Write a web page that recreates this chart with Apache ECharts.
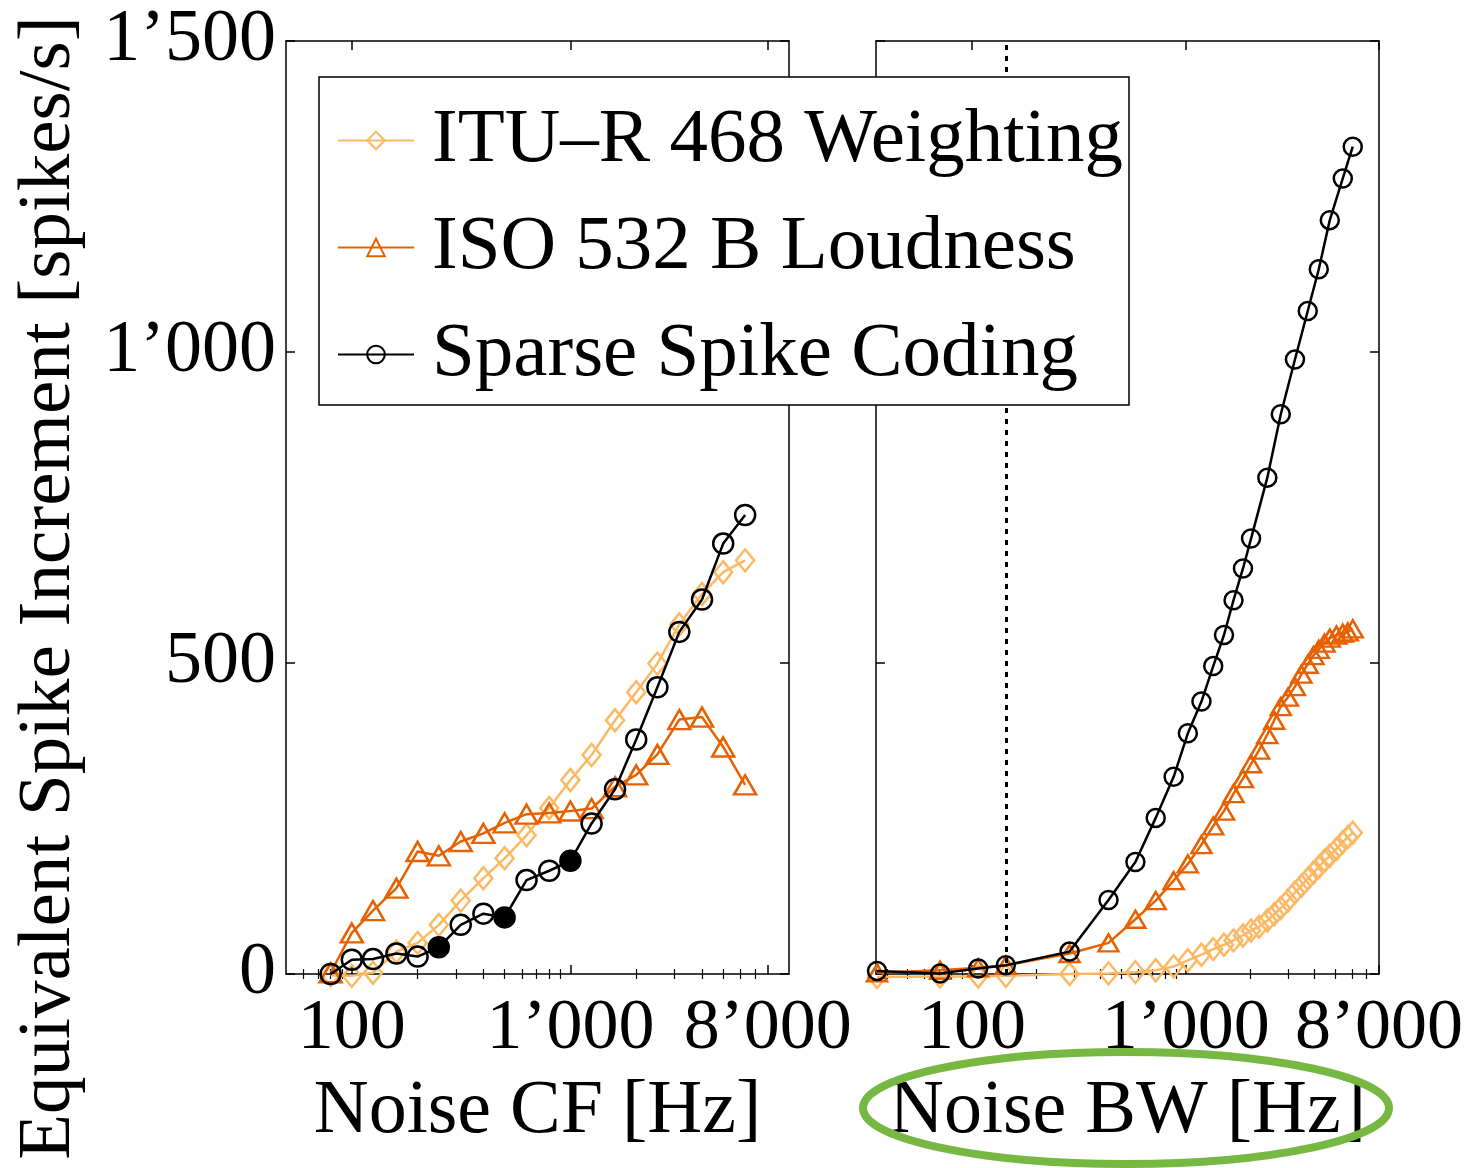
<!DOCTYPE html>
<html>
<head>
<meta charset="utf-8">
<script src="https://cdn.jsdelivr.net/npm/echarts@6/dist/echarts.min.js"></script>
<style>
html,body{margin:0;padding:0;background:#fff;}
#chart{width:1477px;height:1168px;}
</style>
</head>
<body>
<div id="chart"></div>
<script>
// ---------- data ----------
const seriesNames = ['ITU\u2013R 468 Weighting', 'ISO 532 B Loudness', 'Sparse Spike Coding'];
const yAxisTitle = 'Equivalent Spike Increment [spikes/s]';
const xAxisTitles = ['Noise CF [Hz]', 'Noise BW [Hz]'];
const xTickLabels = [100, 1000, 8000];
const yTickLabels = [0, 500, 1000, 1500];
const cfMinorTicks = [60, 70, 80, 90, 200, 300, 400, 500, 600, 700, 800, 900, 2000, 3000, 4000, 5000, 6000, 7000];
const bwMinorTicks = [40, 50, 60, 70, 80, 90, 200, 300, 400, 500, 600, 700, 800, 900, 2000, 3000, 4000, 5000, 6000, 7000];
const cfRange = [50, 10000];
const bwRange = [35.6, 8000];

// Left panel: noise centre frequency
const cfHz     = [80, 100, 125, 160, 200, 250, 315, 400, 500, 630, 800, 1000, 1250, 1600, 2000, 2500, 3150, 4000, 5000, 6300];
const cfItu    = [-2, -3, 2, 36, 50, 79, 118, 154, 186, 223, 267, 312, 352, 408, 453, 499, 562, 611, 646, 665];
const cfIso    = [2, 66, 102, 138, 197, 190, 213, 226, 243, 257, 259, 262, 266, 301, 320, 353, 409, 413, 365, 304];
const cfSparse = [0, 23, 24, 33, 28, 43, 79, 97, 91, 151, 166, 182, 242, 297, 377, 461, 550, 602, 692, 738];
const cfSparseFilledHz = [250, 500, 1000];

// Right panel: noise bandwidth
const bwHz  = [36, 71, 107, 144, 286, 435, 581, 723, 877, 1022, 1183, 1343, 1508, 1671, 1850, 2018, 2200, 2404, 2590, 2779, 3000, 3237, 3470, 3715, 3950, 4183, 4450, 4710, 5060, 5417, 5720, 6030];
const bwItu = [-5, -4, -4, -3, 0, 1, 3, 6, 12, 22, 31, 40, 47, 54, 62, 70, 76, 86, 96, 106, 118, 131, 142, 153, 163, 172, 182, 190, 201, 212, 220, 227];
const bwIso = [2, 6, 10, 14, 33, 50, 88, 118, 150, 177, 208, 238, 262, 290, 314, 338, 360, 385, 408, 430, 445, 462, 482, 498, 512, 522, 532, 540, 545, 548, 550, 555];
const bwSparseHz = [36, 71, 107, 144, 286, 435, 581, 723, 877, 1022, 1183, 1343, 1508, 1671, 1850, 2018, 2404, 2779, 3237, 3715, 4183, 4710, 5417, 6030];
const bwSparse   = [5, 1, 9, 14, 36, 119, 180, 251, 317, 387, 438, 495, 545, 601, 652, 700, 798, 900, 988, 1066, 1133, 1212, 1279, 1330];
const bwMarkerHz = 144;

// ---------- style ----------
const FONT = 'Liberation Serif';
const COLORS = ['#fdb863', '#e66101', '#000000'];
const SYMBOLS = ['diamond', 'triangle', 'circle'];
const L = Math.log10;

function fmtThousands(n) {
  const s = String(Math.round(n));
  return s.length > 3 ? s.slice(0, -3) + '\u2019' + s.slice(-3) : s;
}

const grids = [
  {left: 286, top: 41, width: 503, height: 933},
  {left: 876, top: 41, width: 503, height: 933}
];

function xAxesFor(gridIndex, range, minors, title) {
  const base = {
    type: 'value', gridIndex: gridIndex, min: L(range[0]), max: L(range[1]),
    splitLine: {show: false}
  };
  const line = {show: true, onZero: false, lineStyle: {color: '#000', width: 1.5}};
  return [
    Object.assign({}, base, {
      position: 'bottom', axisLine: line,
      axisTick: {show: true, inside: true, length: 9, lineStyle: {color: '#000', width: 1.5}, customValues: xTickLabels.map(L)},
      axisLabel: {show: true, customValues: xTickLabels.map(L), formatter: v => fmtThousands(Math.pow(10, v)),
        fontFamily: FONT, fontSize: 72, color: '#000', margin: 19},
      name: title, nameLocation: 'middle', nameGap: 100,
      nameTextStyle: {fontFamily: FONT, fontSize: 76, color: '#000'}
    }),
    Object.assign({}, base, {
      position: 'bottom', axisLine: {show: false},
      axisTick: {show: true, inside: true, length: 5, lineStyle: {color: '#000', width: 1.2}, customValues: minors.map(L)},
      axisLabel: {show: false}
    }),
    Object.assign({}, base, {
      position: 'top', axisLine: line,
      axisTick: {show: true, inside: true, length: 9, lineStyle: {color: '#000', width: 1.5}, customValues: xTickLabels.map(L)},
      axisLabel: {show: false}
    }),
    Object.assign({}, base, {
      position: 'top', axisLine: {show: false},
      axisTick: {show: true, inside: true, length: 5, lineStyle: {color: '#000', width: 1.2}, customValues: minors.map(L)},
      axisLabel: {show: false}
    })
  ];
}

function yAxesFor(gridIndex, showLabels) {
  const base = {
    type: 'value', gridIndex: gridIndex, min: yTickLabels[0], max: yTickLabels[yTickLabels.length - 1], interval: 500,
    splitLine: {show: false},
    axisLine: {show: true, onZero: false, lineStyle: {color: '#000', width: 1.5}},
    axisTick: {show: true, inside: true, length: 9, lineStyle: {color: '#000', width: 1.5}}
  };
  return [
    Object.assign({}, base, {
      position: 'left',
      axisLabel: {show: showLabels, formatter: v => fmtThousands(v), fontFamily: FONT, fontSize: 74, color: '#000', margin: 10}
    }),
    Object.assign({}, base, {position: 'right', axisLabel: {show: false}})
  ];
}

function makeSeries(idx, xs, ys, xAxisIndex, yAxisIndex, size, filledHz) {
  const color = COLORS[idx];
  return {
    type: 'line', name: seriesNames[idx],
    xAxisIndex: xAxisIndex, yAxisIndex: yAxisIndex,
    clip: false, animation: false, silent: true,
    symbol: SYMBOLS[idx], symbolSize: size,
    lineStyle: {color: color, width: 2.5},
    itemStyle: {color: 'rgba(0,0,0,0)', borderColor: color, borderWidth: 2.5},
    data: xs.map((x, i) => {
      const item = {value: [L(x), ys[i]]};
      if (filledHz && filledHz.indexOf(x) >= 0) item.itemStyle = {color: color};
      return item;
    }),
    z: 2 + idx
  };
}

const series = [
  makeSeries(0, cfHz, cfItu, 0, 0, [18, 22]),
  makeSeries(1, cfHz, cfIso, 0, 0, [22, 19]),
  makeSeries(2, cfHz, cfSparse, 0, 0, 20, cfSparseFilledHz),
  makeSeries(0, bwHz, bwItu, 4, 2, [18, 22]),
  makeSeries(1, bwHz, bwIso, 4, 2, [20, 17]),
  makeSeries(2, bwSparseHz, bwSparse, 4, 2, 18)
];
series[5].markLine = {
  silent: true, symbol: 'none', animation: false,
  label: {show: false},
  lineStyle: {color: '#000', width: 3, type: [5, 6]},
  data: [{xAxis: L(bwMarkerHz)}]
};

const option = {
  backgroundColor: '#fff',
  animation: false,
  grid: grids.map(g => Object.assign({}, g, {containLabel: false, outerBoundsMode: 'none'})),
  xAxis: xAxesFor(0, cfRange, cfMinorTicks, xAxisTitles[0]).concat(xAxesFor(1, bwRange, bwMinorTicks, xAxisTitles[1])),
  yAxis: yAxesFor(0, true).concat(yAxesFor(1, false)),
  legend: {
    show: true, orient: 'vertical', left: 319, top: 77,
    data: seriesNames, selectedMode: false,
    backgroundColor: '#fff', borderColor: '#000', borderWidth: 1.5, borderRadius: 0,
    padding: [20, 6, 7, 18],
    itemWidth: 76, itemHeight: 22, itemGap: 20,
    textStyle: {fontFamily: FONT, fontSize: 77, color: '#000', lineHeight: 87, padding: [0, 0, 0, 13]},
    z: 20
  },
  series: series,
  graphic: [
    {
      type: 'text', x: 49, y: 588, rotation: Math.PI / 2, z: 50,
      style: {text: yAxisTitle, fontFamily: FONT, fontSize: 75, fill: '#000', textAlign: 'center', textVerticalAlign: 'middle'}
    },
    {
      type: 'ellipse', z: 60, silent: true,
      shape: {cx: 1126, cy: 1108, rx: 263, ry: 56},
      style: {fill: 'none', stroke: '#77b843', lineWidth: 8}
    }
  ]
};

const chart = echarts.init(document.getElementById('chart'), null, {renderer: 'canvas'});
chart.setOption(option);
</script>
</body>
</html>
